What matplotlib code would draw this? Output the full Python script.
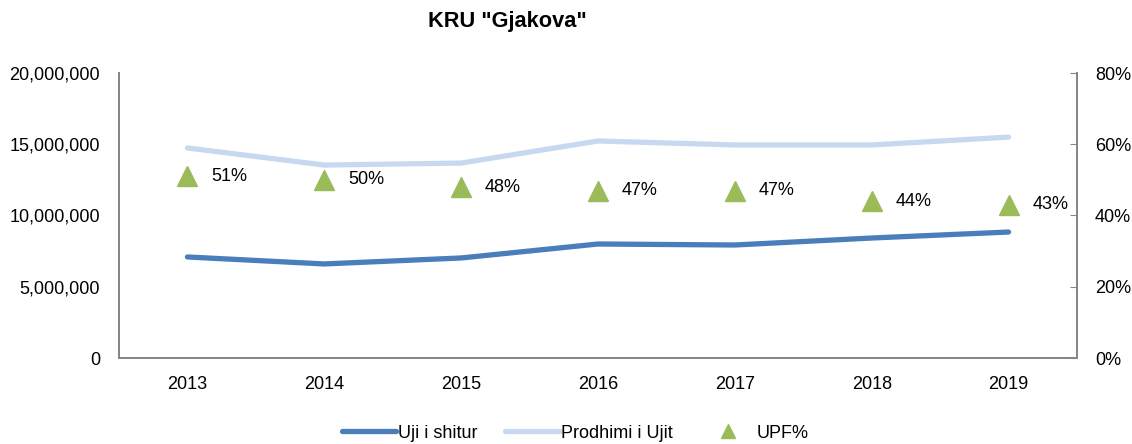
import matplotlib.pyplot as plt
from matplotlib.ticker import FuncFormatter

plt.rcParams['font.family'] = ['Liberation Sans', 'DejaVu Sans']

years = ['2013', '2014', '2015', '2016', '2017', '2018', '2019']
uji_shitur = [7090000, 6600000, 7020000, 8000000, 7930000, 8420000, 8840000]
prodhimi = [14740000, 13540000, 13680000, 15230000, 14950000, 14950000, 15500000]
upf = [0.51, 0.50, 0.48, 0.47, 0.47, 0.44, 0.43]
upf_labels = ['51%', '50%', '48%', '47%', '47%', '44%', '43%']

x = list(range(len(years)))

fig = plt.figure(figsize=(11.32, 4.44), dpi=100)
ax = fig.add_axes([119/1132, 1 - 358/444, (1077-119)/1132, (358-73)/444])
ax2 = ax.twinx()

l1, = ax.plot(x, uji_shitur, color='#4a7ebb', lw=3.8, solid_capstyle='round', label='Uji i shitur')
l2, = ax.plot(x, prodhimi, color='#c6d9f1', lw=3.8, solid_capstyle='round', label='Prodhimi i Ujit')
l3, = ax2.plot(x, upf, ls='none', marker='^', ms=15, color='#9bbb59', label='UPF%')
for xi, v, t in zip(x, upf, upf_labels):
    ax2.annotate(t, (xi, v), xytext=(17, 0), textcoords='offset points',
                 va='center', ha='left', fontsize=13)

ax.set_xlim(-0.5, 6.5)
ax.set_ylim(0, 20000000)
ax.set_yticks([0, 5000000, 10000000, 15000000, 20000000])
ax.yaxis.set_major_formatter(FuncFormatter(lambda v, p: f'{int(v):,}'))
ax2.set_ylim(0, 0.8)
ax2.set_yticks([0, 0.2, 0.4, 0.6, 0.8])
ax2.yaxis.set_major_formatter(FuncFormatter(lambda v, p: f'{v*100:.0f}%'))

ax.set_xticks(x)
ax.set_xticklabels(years)

for a in (ax, ax2):
    a.spines['top'].set_visible(False)
    for s in ('left', 'right', 'bottom'):
        a.spines[s].set_color('#868686')
        a.spines[s].set_linewidth(1.3)
ax.tick_params(axis='both', length=0, labelsize=13)
ax.tick_params(axis='y', pad=13.5)
ax.tick_params(axis='x', pad=13)
ax2.tick_params(axis='y', direction='in', length=5, color='#868686', labelsize=13, pad=13)

fig.text(507/1132, 1 - 22/444, 'KRU "Gjakova"', ha='center', va='center',
         fontsize=15.7, fontweight='bold')

fig.legend(handles=[l1, l2, l3], loc='center', bbox_to_anchor=(575.5/1132, 1 - 433/444),
           ncol=3, frameon=False, fontsize=13, handlelength=3.0, columnspacing=1.55,
           handletextpad=0.1, markerscale=0.7, borderpad=0)

fig.savefig('out.png', dpi=100)
